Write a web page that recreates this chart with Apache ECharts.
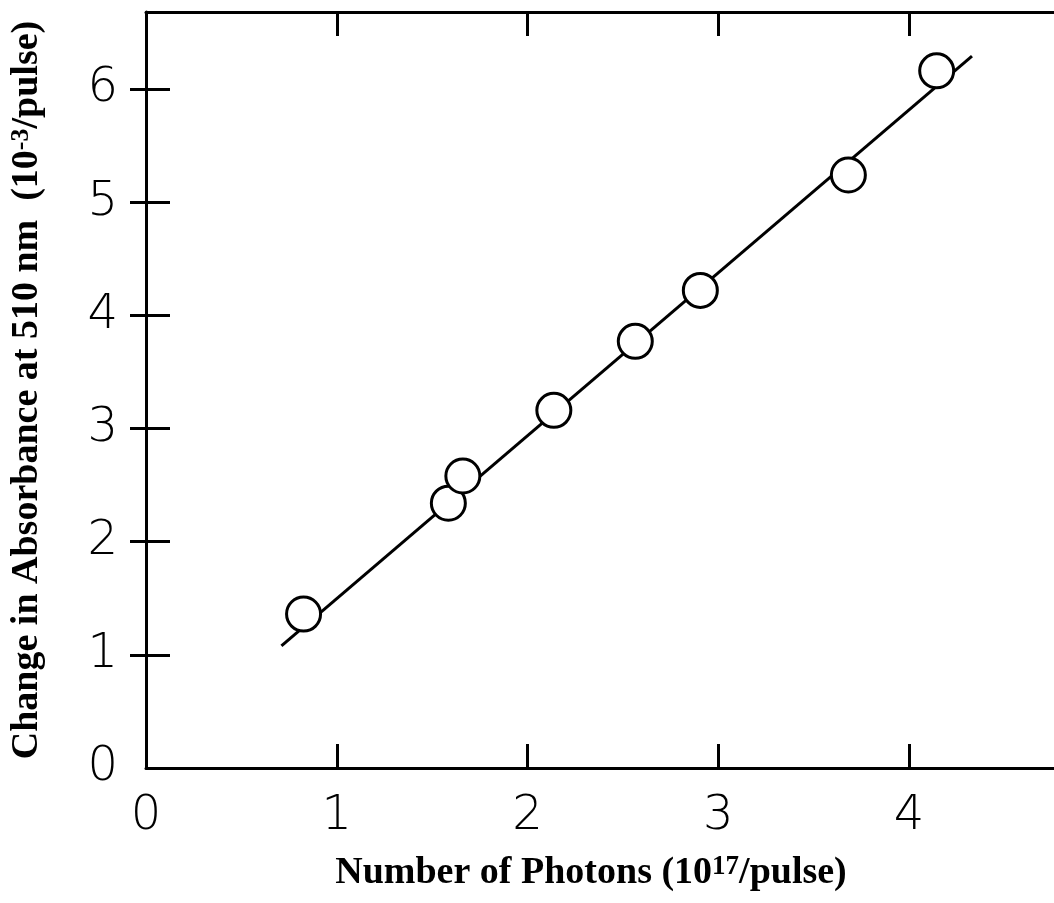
<!DOCTYPE html>
<html>
<head>
<meta charset="utf-8">
<script src="https://cdn.jsdelivr.net/npm/echarts@6/dist/echarts.min.js"></script>
<style>
  html, body { margin: 0; padding: 0; background: #fff; }
  #chart { width: 1054px; height: 903px; }
</style>
</head>
<body>
<div id="chart"></div>
<script>
var chart = echarts.init(document.getElementById('chart'));

// measured points (photons 10^17/pulse, dA 10^-3/pulse)
var photons = [0.826, 1.585, 1.661, 2.138, 2.565, 2.906, 3.682, 4.145];
var absorbance = [1.36, 2.34, 2.58, 3.16, 3.77, 4.22, 5.24, 6.16];
// straight fit line, its two ends
var fitX = [0.71, 4.33];
var fitY = [1.08, 6.29];
var xTicks = [0, 1, 2, 3, 4];
var yTicks = [0, 1, 2, 3, 4, 5, 6];

var points = photons.map(function (x, i) { return [x, absorbance[i]]; });
var fit = fitX.map(function (x, i) { return [x, fitY[i]]; });

var tickFont = {
    color: '#000',
    fontFamily: 'DejaVu Sans',
    fontWeight: 200,
    fontSize: 48,
    lineHeight: 48
};
var frame = { show: true, onZero: false, lineStyle: { color: '#000', width: 3 } };
var inTick = { show: true, inside: true, length: 24, lineStyle: { color: '#000', width: 3 } };

var option = {
    animation: false,
    backgroundColor: '#fff',
    grid: { left: 145, right: 0, top: 12, bottom: 135 },
    xAxis: [{
        type: 'value', min: 0, max: 4.76, interval: 1,
        axisLine: frame,
        axisTick: Object.assign({ customValues: [1, 2, 3, 4] }, inTick),
        axisLabel: Object.assign({ margin: 25, customValues: xTicks }, tickFont),
        splitLine: { show: false },
        name: 'Number of Photons (10{sup|17}/pulse)',
        nameLocation: 'middle',
        nameGap: 86,
        nameTextStyle: {
            color: '#000', fontFamily: 'Liberation Serif', fontWeight: 'bold', fontSize: 38,
            padding: [0, 18, 0, 0],
            rich: { sup: { fontFamily: 'Liberation Serif', fontWeight: 'bold', fontSize: 27, verticalAlign: 'top', padding: [0, 0, 12, 0] } }
        }
    }, {
        type: 'value', min: 0, max: 4.76, interval: 1, position: 'top',
        axisLine: frame,
        axisTick: Object.assign({ customValues: [1, 2, 3, 4] }, inTick),
        axisLabel: { show: false },
        splitLine: { show: false }
    }],
    yAxis: [{
        type: 'value', min: 0, max: 6.68, interval: 1,
        axisLine: frame,
        axisTick: Object.assign({ customValues: [1, 2, 3, 4, 5, 6] }, inTick),
        axisLabel: Object.assign({ margin: 28, customValues: yTicks }, tickFont),
        splitLine: { show: false },
        name: 'Change in Absorbance at 510 nm  (10{sup|-3}/pulse)',
        nameLocation: 'middle',
        nameRotate: 90,
        nameGap: 100,
        nameTextStyle: {
            color: '#000', fontFamily: 'Liberation Serif', fontWeight: 'bold', fontSize: 38,
            rich: { sup: { fontFamily: 'Liberation Serif', fontWeight: 'bold', fontSize: 26, verticalAlign: 'top', padding: [0, 0, 12, 0] } }
        }
    }, {
        type: 'value', min: 0, max: 6.68, interval: 1, position: 'right',
        axisLine: { show: false },
        axisTick: Object.assign({ customValues: [1, 2, 3, 4, 5, 6] }, inTick, { length: 16 }),
        axisLabel: { show: false },
        splitLine: { show: false }
    }],
    series: [{
        type: 'line',
        data: fit,
        symbol: 'none',
        lineStyle: { color: '#000', width: 3 },
        z: 2
    }, {
        type: 'scatter',
        data: points,
        symbol: 'circle',
        symbolSize: 34,
        itemStyle: { color: '#fff', borderColor: '#000', borderWidth: 3, opacity: 1 },
        z: 3
    }]
};
chart.setOption(option);
window.onresize = chart.resize;
</script>
</body>
</html>
